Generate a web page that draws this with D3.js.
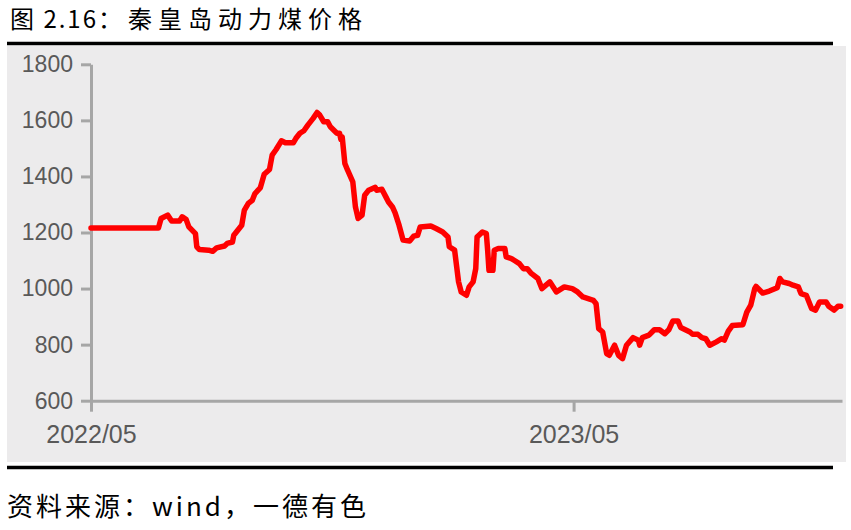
<!DOCTYPE html>
<html>
<head>
<meta charset="utf-8">
<script src="https://cdn.jsdelivr.net/npm/d3@7"></script>
<style>
  body { margin: 0; background: #fff; }
  svg { display: block; }
  .axis path, .axis line { stroke: #a6a6a6; stroke-width: 3; }
  .axis text { fill: #595959; font-family: "Liberation Sans", Arial, sans-serif; }
</style>
</head>
<body>
<div class="layout"></div>
<script>
var titleHead = "图 2.16";
var titleBody = "：秦皇岛动力煤价格";
var source = "资料来源：wind，一德有色";

var yTicks = [600, 800, 1000, 1200, 1400, 1600, 1800];
var xTicks = ["2022-05-01", "2023-05-01"];

// 秦皇岛动力煤价格 (元/吨)
var dates = [
  "2022-05-01","2022-06-21","2022-06-23","2022-06-28","2022-07-01","2022-07-07","2022-07-09","2022-07-12",
  "2022-07-14","2022-07-19","2022-07-20","2022-07-22","2022-07-29","2022-08-01","2022-08-04","2022-08-10",
  "2022-08-12","2022-08-16","2022-08-17","2022-08-20","2022-08-23","2022-08-25","2022-08-28","2022-08-31",
  "2022-09-02","2022-09-06","2022-09-09","2022-09-13","2022-09-15","2022-09-18","2022-09-22","2022-09-25",
  "2022-10-01","2022-10-03","2022-10-06","2022-10-09","2022-10-12","2022-10-16","2022-10-19","2022-10-21",
  "2022-10-24","2022-10-27","2022-10-29","2022-11-03","2022-11-05","2022-11-06","2022-11-07","2022-11-09",
  "2022-11-11","2022-11-15","2022-11-17","2022-11-19","2022-11-22","2022-11-24","2022-11-27","2022-12-02",
  "2022-12-03","2022-12-07","2022-12-10","2022-12-12","2022-12-15","2022-12-17","2022-12-20","2022-12-23",
  "2022-12-28","2022-12-31","2023-01-03","2023-01-05","2023-01-13","2023-01-17","2023-01-22","2023-01-26",
  "2023-01-27","2023-01-31","2023-02-03","2023-02-05","2023-02-09","2023-02-11","2023-02-14","2023-02-16",
  "2023-02-17","2023-02-21","2023-02-24","2023-02-25","2023-02-26","2023-03-01","2023-03-02","2023-03-05",
  "2023-03-10","2023-03-11","2023-03-15","2023-03-17","2023-03-21","2023-03-24","2023-03-27","2023-03-30",
  "2023-04-04","2023-04-07","2023-04-13","2023-04-18","2023-04-24","2023-04-30","2023-05-04","2023-05-08",
  "2023-05-16","2023-05-18","2023-05-20","2023-05-23","2023-05-26","2023-05-28","2023-06-01","2023-06-04",
  "2023-06-07","2023-06-10","2023-06-15","2023-06-19","2023-06-20","2023-06-22","2023-06-27","2023-07-01",
  "2023-07-05","2023-07-09","2023-07-12","2023-07-15","2023-07-19","2023-07-21","2023-07-28","2023-07-30",
  "2023-08-03","2023-08-06","2023-08-09","2023-08-12","2023-08-17","2023-08-21","2023-08-23","2023-08-26",
  "2023-08-29","2023-09-06","2023-09-09","2023-09-12","2023-09-15","2023-09-16","2023-09-21","2023-09-26",
  "2023-10-02","2023-10-04","2023-10-06","2023-10-11","2023-10-14","2023-10-18","2023-10-20","2023-10-24",
  "2023-10-28","2023-10-31","2023-11-03","2023-11-08","2023-11-10","2023-11-14","2023-11-17","2023-11-19"
];
var prices = [
  1216,1216,1250,1262,1241,1241,1256,1246,
  1220,1196,1149,1139,1137,1133,1145,1152,
  1161,1166,1190,1208,1226,1280,1304,1315,
  1339,1359,1408,1425,1476,1496,1527,1520,
  1520,1536,1554,1563,1583,1607,1628,1619,
  1595,1595,1577,1554,1554,1532,1541,1446,
  1423,1381,1291,1250,1262,1333,1351,1361,
  1351,1354,1327,1309,1291,1270,1226,1173,
  1170,1187,1190,1220,1223,1214,1202,1184,
  1149,1137,1024,988,976,1006,1024,1071,
  1184,1202,1196,1137,1065,1065,1137,1143,
  1143,1113,1107,1101,1089,1071,1071,1054,
  1036,1000,1024,988,1006,1000,988,970,
  958,946,857,845,768,762,798,762,
  750,798,825,816,798,825,834,853,
  853,839,853,884,884,861,845,837,
  837,825,821,798,810,821,816,848,
  868,871,916,941,1000,1008,984,991,
  1003,1036,1024,1018,1012,1006,982,976,
  929,923,952,952,937,923,937,937
];

var W = 851, H = 530;
var margin = {left: 91, top: 64.3, right: 9, bottom: 129.3};
var width = W - margin.left - margin.right,
    height = H - margin.top - margin.bottom;

var parseDate = d3.timeParse("%Y-%m-%d");
var data = dates.map(function(d, i) { return {date: parseDate(d), close: prices[i]}; });

var svg = d3.select(".layout").append("svg")
    .attr("width", W)
    .attr("height", H);

// gray plot panel and the two black rules
svg.append("rect")
    .attr("x", 7).attr("y", 46)
    .attr("width", 839).attr("height", 416)
    .attr("fill", "#ecebec");
svg.append("line")
    .attr("x1", 7).attr("x2", 833).attr("y1", 43.5).attr("y2", 43.5)
    .attr("stroke", "#000").attr("stroke-width", 3.5);
svg.append("line")
    .attr("x1", 7).attr("x2", 833).attr("y1", 467.5).attr("y2", 467.5)
    .attr("stroke", "#000").attr("stroke-width", 3.5);

var titleText = svg.append("text")
    .attr("x", 10).attr("y", 28)
    .style("font-family", "'Noto Sans CJK SC', sans-serif")
    .style("font-size", "24px")
    .attr("fill", "#000");
titleText.append("tspan").style("letter-spacing", "2px").text(titleHead);
titleText.append("tspan").style("letter-spacing", "6px").text(titleBody);

svg.append("text")
    .attr("x", 7).attr("y", 516)
    .style("font-family", "'Noto Sans CJK SC', sans-serif")
    .style("font-size", "26px")
    .style("letter-spacing", "3px")
    .attr("fill", "#000")
    .text(source);

var x = d3.scaleTime()
    .domain([parseDate("2022-05-01"), parseDate("2023-11-20")])
    .range([0, width]);
var y = d3.scaleLinear()
    .domain([600, 1800])
    .range([height, 0]);

var g = svg.append("g")
    .attr("transform", "translate(" + margin.left + "," + margin.top + ")");

var xAxis = d3.axisBottom(x)
    .tickValues(xTicks.map(parseDate))
    .tickFormat(d3.timeFormat("%Y/%m"))
    .tickSize(11)
    .tickSizeOuter(0)
    .tickPadding(14);
var yAxis = d3.axisLeft(y)
    .tickValues(yTicks)
    .tickFormat(d3.format("d"))
    .tickSize(10)
    .tickSizeOuter(0)
    .tickPadding(8);

g.append("g")
    .attr("class", "y axis")
    .call(yAxis)
    .selectAll("text").style("font-size", "23px");

g.append("g")
    .attr("class", "x axis")
    .attr("transform", "translate(0," + height + ")")
    .call(xAxis)
    .selectAll("text").style("font-size", "25px");

var line = d3.line()
    .x(function(d) { return x(d.date); })
    .y(function(d) { return y(d.close); });

g.append("path")
    .datum(data)
    .attr("fill", "none")
    .attr("stroke", "#ff0000")
    .attr("stroke-width", 5.5)
    .attr("stroke-linejoin", "round")
    .attr("stroke-linecap", "round")
    .attr("d", line);
</script>
</body>
</html>
